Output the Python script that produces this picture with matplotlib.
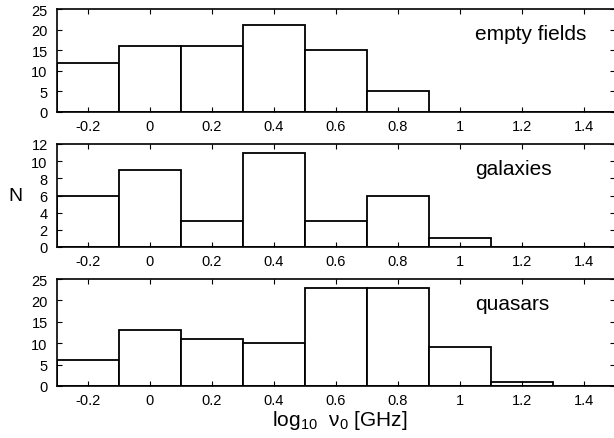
import matplotlib
matplotlib.use("Agg")
import matplotlib.pyplot as plt

plt.rcParams['font.family'] = ['Liberation Sans', 'DejaVu Sans']
plt.rcParams['mathtext.fontset'] = 'custom'
plt.rcParams['mathtext.rm'] = 'Liberation Sans'
plt.rcParams['mathtext.it'] = 'Liberation Sans'

bin_centers = [-0.2, 0.0, 0.2, 0.4, 0.6, 0.8, 1.0, 1.2, 1.4]
empty_fields = [12, 16, 16, 21, 15, 5, 0, 0, 0]
galaxies = [6, 9, 3, 11, 3, 6, 1, 0, 0]
quasars = [6, 13, 11, 10, 23, 23, 9, 1, 0]
labels = ["empty fields", "galaxies", "quasars"]
xticks = [-0.2, 0, 0.2, 0.4, 0.6, 0.8, 1, 1.2, 1.4]
xticklabels = ["-0.2", "0", "0.2", "0.4", "0.6", "0.8", "1", "1.2", "1.4"]

fig = plt.figure(figsize=(6.14, 4.39), dpi=100)
left, width = 56.7 / 614, 558.5 / 614
H = 439
boxes = [(10, 113), (145, 248), (280, 387)]
series = [empty_fields, galaxies, quasars]
ylims = [25, 12, 25]
ysteps = [5, 2, 5]
text_y = [17.7, 8.5, 18.0]

for (top, bot), vals, lab, ymax, ystep, ty in zip(boxes, series, labels, ylims, ysteps, text_y):
    ax = fig.add_axes([left, 1 - bot / H, width, (bot - top) / H])
    ax.bar(bin_centers, vals, width=0.2, color='white', edgecolor='black', linewidth=1.3)
    ax.set_xlim(-0.3, 1.5)
    ax.set_ylim(0, ymax)
    ax.set_xticks(xticks)
    ax.set_xticklabels(xticklabels)
    ax.set_yticks(list(range(0, ymax + 1, ystep)))
    ax.tick_params(direction='in', top=True, right=True, length=3.5, width=0.8,
                   labelsize=10.5)
    ax.tick_params(axis='x', pad=5.0)
    ax.tick_params(axis='y', pad=6.5)
    for s in ax.spines.values():
        s.set_linewidth(1.2)
    ax.text(1.049, ty, lab, fontsize=15, ha='left', va='baseline')

fig.text(15 / 614, 1 - 197 / H, "N", fontsize=14, ha='center', va='center')
fig.text(340 / 614, 1 - 426 / H, r"log$_{10}$  ν$_0$ [GHz]", fontsize=15,
         ha='center', va='baseline')

fig.savefig("out.png", dpi=100)
